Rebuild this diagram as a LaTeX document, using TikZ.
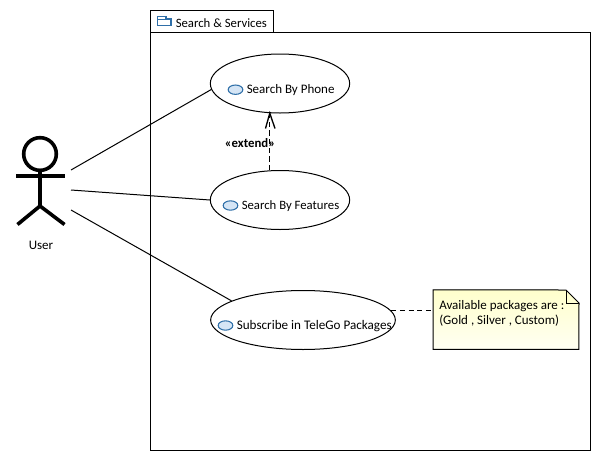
\documentclass[tikz,border=0pt]{standalone}
\usepackage{fontspec}
\setmainfont{Carlito}
\usetikzlibrary{shapes.geometric,arrows.meta}
\definecolor{iconblue}{HTML}{2F6FA8}
\definecolor{iconfill}{HTML}{D5E5F5}
\definecolor{noteyellow}{HTML}{FFFFCC}
\tikzset{
  px/.style={line width=0.75pt,draw=black},
  usecase/.style={ellipse,px,minimum height=44.25pt,inner sep=0pt,fill=white},
  icon/.style={ellipse,draw=iconblue,fill=iconfill,line width=0.8pt,minimum width=11pt,minimum height=7pt,inner sep=0pt},
  lbl/.style={inner sep=0pt,font=\fontsize{9.75pt}{11.4pt}\selectfont,anchor=west},
  lblnarrow/.style={lbl,font=\fontsize{9.55pt}{11.4pt}\selectfont},
  assoc/.style={px},
  stick/.style={line width=2.7pt,draw=black},
  dashline/.style={px,dash pattern=on 3.9pt off 2.6pt},
}
\begin{document}
\begin{tikzpicture}[x=0.75pt,y=-0.75pt]
\useasboundingbox (0,0) rectangle (601,461);
\fill[white] (0,0) rectangle (601,461);
% package
\draw[px] (150.5,32.5) -- (150.5,10.5) -- (273.5,10.5) -- (273.5,32.5);
\draw[px] (150.5,32.5) rectangle (590.5,450.5);
\draw[line width=0.8pt,draw=iconblue,fill=white] (157.5,25.5) -- (157.5,16.5) -- (166,16.5) -- (166,19) -- (171,19) -- (171,25.5) -- cycle;
\draw[line width=0.6pt,draw=iconblue] (157.5,19) -- (166,19);
\node[lblnarrow] (pkg) at (175.5,23) {Search \& Services};
% use cases
\node[usecase,minimum width=104.5pt] (uc1) at (280,83.5) {};
\node[usecase,minimum width=104.5pt] (uc2) at (280,200) {};
\node[usecase,minimum width=138.5pt] (uc3) at (303,320) {};
\node[icon] (i1) at (235.5,89.7) {};
\node[icon] (i2) at (230.5,205.5) {};
\node[icon] (i3) at (225.5,325.5) {};
\node[lbl] (t1) at (246.5,90.5) {Search By Phone};
\node[lblnarrow] (t2) at (241.5,206.5) {Search By Features};
\node[lbl,font=\fontsize{9.85pt}{11.4pt}\selectfont] (t3) at (236.5,326.5) {Subscribe in TeleGo Packages};
% actor
\node[circle,stick,minimum size=24.5pt,inner sep=0pt] (head) at (40,154) {};
\coordinate (armL) at (16,176);
\coordinate (armR) at (65,176);
\coordinate (hip) at (40,206);
\coordinate (footL) at (17.5,224.5);
\coordinate (footR) at (64.5,224.5);
\draw[stick] (armL) -- (armR);
\draw[stick] (head.south) -- (hip);
\draw[stick] (footL) -- (hip) -- (footR);
\node[lbl,anchor=center] (user) at (41,245) {User};
% associations
\coordinate (a1) at (71,170);
\coordinate (a2) at (71,190);
\coordinate (a3) at (71,210);
\draw[assoc] (a1) -- (uc1.185);
\draw[assoc] (a2) -- (uc2.180);
\draw[assoc] (a3) -- (uc3.165);
% extend
\draw[dashline] (uc2.109) -- (uc1.251);
\coordinate (wL) at (265.5,128.5);
\coordinate (wR) at (275,128.5);
\draw[line width=1pt,line join=miter] (wL) -- (uc1.251) -- (wR);
\node[lbl,anchor=center,font=\fontsize{9.6pt}{11.4pt}\selectfont\bfseries] (ext) at (250,143.5) {«extend»};
% note
\node[minimum width=109pt,minimum height=44.25pt,inner sep=0pt] (note) at (506,319.7) {};
\coordinate (fa) at (566,290);
\coordinate (fb) at (579,303);
\fill[top color=noteyellow,bottom color=noteyellow!25] (note.north west) -- (fa) -- (fb) -- (note.south east) -- (note.south west) -- cycle;
\draw[px] (note.north west) -- (fa) -- (fb) -- (note.south east) -- (note.south west) -- cycle;
\draw[line width=0.6pt] (fa) -- (566,303) -- (fb);
\node[lbl] (n1) at (439,306) {Available packages are :};
\node[lbl] (n2) at (439,321) {(Gold , Silver , Custom)};
\draw[dashline] (uc3.6.5) -- (uc3.6.5 -| note.west);
\end{tikzpicture}
\end{document}
